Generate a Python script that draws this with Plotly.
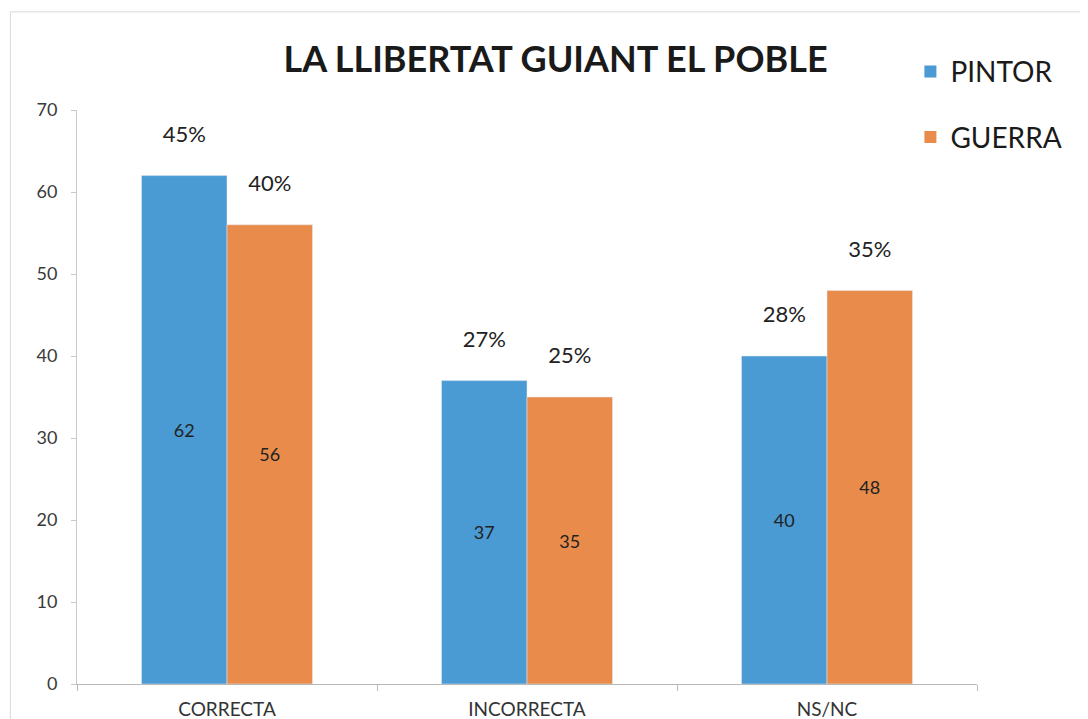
import plotly.graph_objects as go

categories = ["CORRECTA", "INCORRECTA", "NS/NC"]
series_names = ["PINTOR", "GUERRA"]
pintor = [62, 37, 40]
guerra = [56, 35, 48]
pintor_pct = ["45%", "27%", "28%"]
guerra_pct = ["40%", "25%", "35%"]
y_ticks = [0, 10, 20, 30, 40, 50, 60, 70]

blue = "#4A9AD4"
orange = "#E98C4B"
font = "Lato, 'Open Sans', sans-serif"

fig = go.Figure()

for name, vals, pct, col, grp in [("PINTOR", pintor, pintor_pct, blue, "a"),
                                   ("GUERRA", guerra, guerra_pct, orange, "b")]:
    # bar with value inside
    fig.add_trace(go.Bar(x=categories, y=vals, name=name, offsetgroup=grp,
                         marker=dict(color=col, line=dict(width=0)),
                         text=[str(v) for v in vals], textposition="inside",
                         insidetextanchor="middle",
                         textfont=dict(size=18, color="#222", family=font),
                         legendgroup=name, hoverinfo="skip"))
    # transparent copy carrying the percentage above the bar
    fig.add_trace(go.Bar(x=categories, y=vals, offsetgroup=grp, showlegend=False,
                         marker=dict(color="rgba(0,0,0,0)"),
                         text=[p + "<br><span style='font-size:9px'> </span>" for p in pct],
                         textposition="outside", cliponaxis=False,
                         textfont=dict(size=22, color="#222", family=font),
                         hoverinfo="skip"))

# page body has an 8px margin, so the figure is sized/shifted to compensate
fig.update_layout(
    width=1080, height=711,
    margin=dict(l=69, r=111, t=102, b=35),
    paper_bgcolor="white", plot_bgcolor="white",
    barmode="group", bargap=0.43, bargroupgap=0,
    uniformtext=dict(mode=False),
    title=dict(text="<b>LA LLIBERTAT GUIANT EL POBLE</b>", x=0.507, xanchor="center",
               y=0.928, yanchor="middle",
               font=dict(size=36, color="#1a1a1a", family=font)),
    legend=dict(x=0.926, y=1.11, xanchor="left", yanchor="top",
                font=dict(size=28, color="#1a1a1a", family=font),
                tracegroupgap=26, itemwidth=30, bgcolor="rgba(0,0,0,0)"),
    font=dict(family=font),
    shapes=[dict(type="rect", xref="paper", yref="paper", x0=-0.074, x1=1.15,
                 y0=-0.1, y1=1.171, line=dict(color="#d8d8d8", width=1))],
)

fig.update_yaxes(range=[0, 70], tickvals=y_ticks, showgrid=False,
                 showline=True, linecolor="#c8c8c8", linewidth=1,
                 ticks="outside", ticklen=5, tickcolor="#c8c8c8",
                 tickfont=dict(size=18, color="#3a3a3a", family=font),
                 ticklabelstandoff=10, zeroline=False, automargin=False)
fig.update_xaxes(showgrid=False, showline=True, linecolor="#b8b8b8", linewidth=1,
                 ticks="outside", tickson="boundaries", ticklen=6, tickcolor="#b8b8b8",
                 tickfont=dict(size=19, color="#333", family=font),
                 ticklabelstandoff=8, automargin=False)

fig.write_html("out.html")
